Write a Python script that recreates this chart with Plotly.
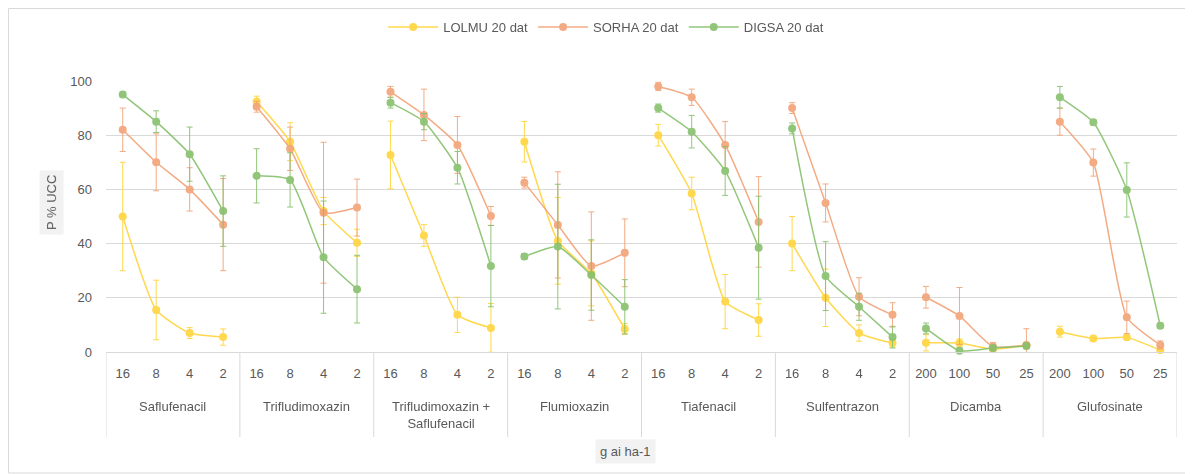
import plotly.graph_objects as go

# ---------------- data ----------------
groups = ["Saflufenacil", "Trifludimoxazin", "Trifludimoxazin +<br>Saflufenacil",
          "Flumioxazin", "Tiafenacil", "Sulfentrazon", "Dicamba", "Glufosinate"]
doses_low = ["16", "8", "4", "2"]
doses_high = ["200", "100", "50", "25"]
group_doses = [doses_low] * 6 + [doses_high] * 2

series_names = ["LOLMU 20 dat", "SORHA 20 dat", "DIGSA 20 dat"]

lolmu = [50, 15.5, 7, 5.5, 92.4, 77.6, 52, 40.3, 72.7, 43, 13.7, 8.9,
         77.6, 41, 29, 8.5, 80, 58.5, 18.6, 11.8, 40, 20, 7, 3.3,
         3.4, 3.3, 1, 2.5, 7.5, 5, 5.4, 0.7]
sorha = [82, 70, 60, 47, 90.5, 75, 51.4, 53.3, 96, 87.5, 76.4, 50.2,
         62.5, 46.9, 31.7, 36.6, 98, 94, 76.4, 48, 90, 55, 20.4, 13.7,
         20.2, 13.3, 2, 2.6, 85, 69.9, 12.8, 2.6]
digsa = [95, 85, 73, 52, 65, 63.5, 35, 23.2, 92, 85, 68, 31.7,
         35.2, 38.9, 28.4, 16.7, 90, 81.3, 66.8, 38.5, 82.5, 28, 16.7, 5.5,
         8.7, 0.5, 1.5, 2.2, 94, 84.8, 59.8, 9.7]

lolmu_err = [20, 11, 2, 3, 2, 7, 5, 5, 12.5, 4, 6.5, 9,
             7.5, 16, 12, 2, 4, 6, 10, 6, 10, 10.6, 3, 1.5,
             3, 1.5, 1, 1, 2, 1, 1, 1]
sorha_err = [8, 10.5, 8, 17, 2, 8, 26, 10.5, 2, 9.5, 10.5, 3.5,
             2, 19.6, 20, 12.5, 1.5, 3, 8.6, 16.7, 2, 7, 7, 4.5,
             4, 10.5, 1.5, 6, 5, 5, 6, 1.5]
digsa_err = [1, 4, 10, 13, 10, 10, 20.7, 12.5, 2, 3, 6, 15,
             1, 23, 13, 10, 1.5, 6, 9, 19, 2, 12.7, 5, 4,
             2, 1, 1, 1, 4, 1, 10, 1]

y_ticks = [0, 20, 40, 60, 80, 100]

values = [lolmu, sorha, digsa]
errors = [lolmu_err, sorha_err, digsa_err]
colors = ["#FFD43B", "#F2A277", "#86C06C"]

# category positions along the x axis (one slot per dose, 4 per group)
dose_labels = [d for ds in group_doses for d in ds]
n_cat = len(dose_labels)
positions = list(range(n_cat))

# ---------------- figure ----------------
fig = go.Figure()
for s, name in enumerate(series_names):
    for g in range(len(groups)):
        idx = slice(4 * g, 4 * g + 4)
        fig.add_trace(go.Scatter(
            x=positions[idx],
            y=values[s][idx],
            mode="lines+markers",
            name=name,
            legendgroup=name,
            showlegend=(g == 0),
            line=dict(color=colors[s], width=1.5, shape="spline", smoothing=0.5),
            marker=dict(color=colors[s], size=8, symbol="circle"),
            error_y=dict(type="data", array=errors[s][idx], color=colors[s],
                         thickness=1, width=3),
            cliponaxis=False,
            opacity=0.9,
        ))

font_family = "Liberation Sans, Arial, sans-serif"
grey_txt = "#595959"
line_grey = "#d9d9d9"
fs = 13

# page body has an 8px margin: figure is sized/offset to compensate
fig.update_layout(
    template="none",
    width=1185, height=466,
    margin=dict(l=98, r=16, t=73, b=122, autoexpand=False),
    paper_bgcolor="white", plot_bgcolor="white",
    font=dict(family=font_family, size=fs, color=grey_txt),
    legend=dict(orientation="h", x=0.467, xanchor="center",
                yref="container", y=1 - 19 / 466, yanchor="middle",
                font=dict(size=fs, color=grey_txt), itemwidth=50,
                bgcolor="rgba(0,0,0,0)", traceorder="normal"),
    showlegend=True,
)

fig.update_xaxes(
    range=[-0.5, n_cat - 0.5],
    tickmode="array", tickvals=positions, ticktext=dose_labels,
    showline=True, linecolor=line_grey, linewidth=1,
    showgrid=False, zeroline=False, automargin=False,
    tickfont=dict(size=fs, color=grey_txt),
    ticks="", ticklabelstandoff=9,
)
fig.update_yaxes(
    range=[0, 100], tickvals=y_ticks,
    showgrid=True, gridcolor=line_grey, gridwidth=1,
    zeroline=False, showline=False, automargin=False,
    tickfont=dict(size=fs, color=grey_txt), ticks="",
    ticklabelstandoff=13,
)

# group labels and separators under the dose labels
for g, grp in enumerate(groups):
    fig.add_annotation(text=grp, xref="x", yref="paper",
                       x=4 * g + 1.5, y=-0.166, yanchor="top",
                       showarrow=False, font=dict(size=fs, color=grey_txt))
for g in range(len(groups) + 1):
    fig.add_shape(type="line", xref="x", yref="paper",
                  x0=4 * g - 0.5, x1=4 * g - 0.5, y0=0, y1=-0.3137,
                  line=dict(color=line_grey, width=1))

# axis titles with grey background (Excel style)
fig.add_annotation(text="P % UCC", xref="paper", yref="paper",
                   x=-0.0504, y=0.55, xanchor="center", yanchor="middle",
                   textangle=-90, showarrow=False,
                   bgcolor="#f2f2f2", font=dict(size=fs, color=grey_txt),
                   borderpad=4)
fig.add_annotation(text="g ai ha-1", xref="paper", yref="paper",
                   x=0.4846, y=-0.369, xanchor="center", yanchor="middle",
                   showarrow=False,
                   bgcolor="#f2f2f2", font=dict(size=fs, color=grey_txt),
                   borderpad=4)

# chart area border
fig.add_shape(type="rect", xref="paper", yref="paper",
              x0=-0.091, x1=1.0093, y0=-0.4465, y1=1.2675,
              line=dict(color=line_grey, width=1), layer="below")

fig.write_html("out.html")
